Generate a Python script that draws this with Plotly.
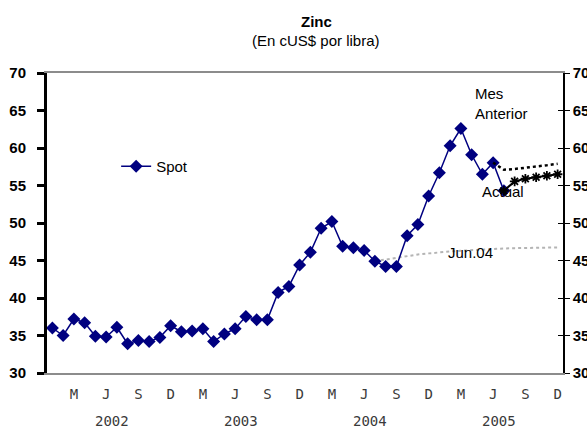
import plotly.graph_objects as go

# ---- data ----
months = [f"{y}-{m:02d}" for y in (2002, 2003, 2004, 2005) for m in range(1, 13)]
month_ticks = ["M", "J", "S", "D"] * 4
years = ["2002", "2003", "2004", "2005"]

spot = [36.0, 35.0, 37.2, 36.7, 34.9, 34.8, 36.1, 33.9, 34.35, 34.2, 34.75, 36.3,
        35.5, 35.6, 35.9, 34.2, 35.2, 35.9, 37.55, 37.1, 37.1, 40.75, 41.55, 44.4,
        46.1, 49.3, 50.2, 46.9, 46.7, 46.35, 44.9, 44.2, 44.2, 48.3, 49.8, 53.6,
        56.7, 60.3, 62.6, 59.1, 56.5, 58.05, 54.3]

actual = [54.3, 55.55, 55.9, 56.1, 56.3, 56.5]          # Jul-05 .. Dec-05
mes_anterior = [58.05, 57.1, 57.2, 57.35, 57.5, 57.7, 57.9]  # Jun-05 .. Dec-05
jun04 = [44.9, 45.15, 45.4, 45.6, 45.8, 45.95, 46.1, 46.2, 46.3, 46.4, 46.5,
         46.55, 46.6, 46.65, 46.7, 46.7, 46.72, 46.75]   # Jul-04 .. Dec-05

FONT = "Liberation Sans, Arial, sans-serif"

fig = go.Figure()

fig.add_trace(go.Scatter(
    x=months[30:30 + len(jun04)], y=jun04, mode="lines",
    line=dict(color="#b4b4b4", width=2, dash="dot"), showlegend=False))

fig.add_trace(go.Scatter(
    x=months[:len(spot)], y=spot, mode="lines+markers", name="Spot",
    line=dict(color="#000080", width=1.5),
    marker=dict(symbol="diamond", size=10, color="#000080")))

fig.add_trace(go.Scatter(
    x=months[41:41 + len(mes_anterior)], y=mes_anterior, mode="lines",
    line=dict(color="black", width=2.5, dash="dot"), showlegend=False))

fig.add_trace(go.Scatter(
    x=months[42:42 + len(actual)], y=actual, mode="lines+markers",
    line=dict(color="black", width=2),
    marker=dict(symbol="asterisk-open", size=8, color="black",
                line=dict(color="black", width=1.8)),
    showlegend=False))

# dummy traces for right axes
fig.add_trace(go.Scatter(x=[months[0]], y=[None], yaxis="y2", showlegend=False, hoverinfo="skip"))
fig.add_trace(go.Scatter(x=[months[0]], y=[None], yaxis="y3", showlegend=False, hoverinfo="skip"))

yticks = dict(range=[30, 70], dtick=5, tick0=30, showgrid=False, zeroline=False,
              automargin=False)

fig.update_layout(
    width=587, height=427,
    margin=dict(l=47, r=24, t=73, b=54),
    paper_bgcolor="white", plot_bgcolor="white",
    font=dict(family=FONT, color="black"),
    xaxis=dict(type="category", categoryorder="array", categoryarray=months,
               range=[-0.5, len(months) - 0.5], automargin=False,
               tickmode="array", tickvals=months[2::3], ticktext=month_ticks,
               ticks="", showgrid=False, zeroline=False,
               showline=True, linecolor="#8c8c8c", linewidth=1.5, mirror=True,
               tickfont=dict(family="DejaVu Sans Mono", size=14, color="#3a3a3a"),
               ticklabelstandoff=7),
    yaxis=dict(**yticks, showline=True, linecolor="black", linewidth=3,
               ticks="outside", ticklen=7, tickwidth=3, tickcolor="black",
               tickfont=dict(family=FONT, size=15, color="black", weight="bold"),
               ticklabelstandoff=8),
    yaxis2=dict(**yticks, overlaying="y", side="right", showline=True,
                linecolor="black", linewidth=1.5, ticks="outside", ticklen=5,
                tickwidth=1.2, tickcolor="black",
                tickfont=dict(family=FONT, size=15, color="black", weight="bold")),
    yaxis3=dict(**yticks, overlaying="y", side="right", showline=False,
                ticks="inside", ticklen=5, tickwidth=1.2, tickcolor="black",
                showticklabels=False),
    legend=dict(x=0.134, y=0.688, xanchor="left", yanchor="middle",
                bgcolor="rgba(0,0,0,0)", font=dict(family=FONT, size=15)),
    showlegend=True,
)

ann = []
ann.append(dict(text="<b>Zinc</b>", xref="paper", yref="paper", x=0.522, y=1.171,
                xanchor="center", yanchor="middle", showarrow=False,
                font=dict(family=FONT, size=15, color="black")))
ann.append(dict(text="(En cUS$ por libra)", xref="paper", yref="paper", x=0.522, y=1.108,
                xanchor="center", yanchor="middle", showarrow=False,
                font=dict(family=FONT, size=15, color="black")))
for i, yr in enumerate(years):
    ann.append(dict(text=yr, xref="x", yref="paper", x=i * 12 + 5.5, y=-0.16,
                    xanchor="center", yanchor="middle", showarrow=False,
                    font=dict(family="DejaVu Sans Mono", size=14, color="#3a3a3a")))
ann.append(dict(text="Mes<br>Anterior", xref="x", yref="y", x=39.1, y=66.0,
                xanchor="left", yanchor="middle", align="left", showarrow=False,
                font=dict(family=FONT, size=15, color="black")))
ann.append(dict(text="Actual", xref="x", yref="y", x=41.93, y=54.17,
                xanchor="center", yanchor="middle", showarrow=False,
                font=dict(family=FONT, size=15, color="black")))
ann.append(dict(text="Jun.04", xref="x", yref="y", x=38.87, y=46.04,
                xanchor="center", yanchor="middle", showarrow=False,
                font=dict(family=FONT, size=15, color="black")))
fig.update_layout(annotations=ann)

fig.write_html("out.html", config={"displayModeBar": False},
               post_script="document.body.style.margin='0';document.body.style.overflow='hidden';")
